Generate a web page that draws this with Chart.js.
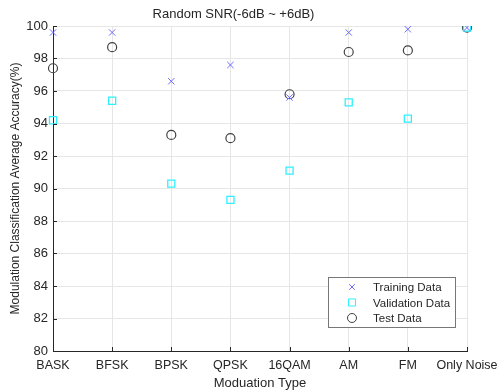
<!DOCTYPE html>
<html>
<head>
<meta charset="utf-8">
<script src="https://cdn.jsdelivr.net/npm/chart.js@4/dist/chart.umd.min.js"></script>
<style>
html,body{margin:0;padding:0;background:#fff;}
#wrap{width:497px;height:392px;}
</style>
</head>
<body>
<div id="wrap"><canvas id="c" width="497" height="392"></canvas></div>
<script>
const categories = ['BASK','BFSK','BPSK','QPSK','16QAM','AM','FM','Only Noise'];
const trainingData = [99.6, 99.6, 96.6, 97.6, 95.6, 99.6, 99.8, 99.9];
const validationData = [94.2, 95.4, 90.3, 89.3, 91.1, 95.3, 94.3, 99.9];
const testData = [97.4, 98.7, 93.3, 93.1, 95.8, 98.4, 98.5, 99.9];
const yTicks = [80, 82, 84, 86, 88, 90, 92, 94, 96, 98, 100];

const FONT = '"Liberation Sans", Arial, sans-serif';
const TXT = '#262626';

const innerTicks = {
  id: 'innerTicks',
  afterDraw(chart) {
    const ctx = chart.ctx, a = chart.chartArea;
    const xs = chart.scales.x, ys = chart.scales.y;
    ctx.save();
    ctx.strokeStyle = TXT; ctx.lineWidth = 1;
    ctx.beginPath();
    xs.ticks.forEach((t, i) => {
      const px = Math.round(xs.getPixelForTick(i)) + 0.5;
      ctx.moveTo(px, a.bottom); ctx.lineTo(px, a.bottom - 4);
    });
    ys.ticks.forEach((t, i) => {
      const py = Math.round(ys.getPixelForTick(i)) + 0.5;
      ctx.moveTo(a.left, py); ctx.lineTo(a.left + 4, py);
    });
    ctx.stroke();
    ctx.restore();
  }
};

const boxLegend = {
  id: 'boxLegend',
  afterDraw(chart) {
    const ctx = chart.ctx, a = chart.chartArea;
    const w = 127, h = 50;
    const x0 = a.right - 12 - w, y0 = a.bottom - 24 - h;
    ctx.save();
    ctx.fillStyle = '#fff';
    ctx.fillRect(x0, y0, w, h);
    ctx.strokeStyle = '#777'; ctx.lineWidth = 1;
    ctx.strokeRect(Math.round(x0) + 0.5, Math.round(y0) + 0.5, w, h);
    ctx.font = '11.5px ' + FONT;
    ctx.textBaseline = 'middle';
    chart.data.datasets.forEach((ds, i) => {
      const cy = y0 + 10 + i * 15.5;
      const mx = x0 + 24;
      ctx.strokeStyle = ds.borderColor;
      ctx.fillStyle = 'rgba(0,0,0,0)';
      ctx.lineWidth = 1;
      Chart.helpers.drawPoint(ctx, {pointStyle: ds.pointStyle, radius: ds.legendRadius, borderWidth: 1}, mx, cy);
      ctx.fillStyle = TXT;
      ctx.fillText(ds.label, x0 + 45, cy + 1);
    });
    ctx.restore();
  }
};

new Chart(document.getElementById('c'), {
  type: 'line',
  data: {
    labels: categories,
    datasets: [
      {label: 'Training Data', data: trainingData, showLine: false, pointStyle: 'crossRot',
       pointRadius: 4.5, legendRadius: 4, borderColor: '#6b6bff', backgroundColor: '#6b6bff', pointBorderWidth: 1},
      {label: 'Validation Data', data: validationData, showLine: false, pointStyle: 'rect',
       pointRadius: 5, legendRadius: 5, borderColor: '#2ff0ff', backgroundColor: 'rgba(0,0,0,0)', pointBorderWidth: 1.3},
      {label: 'Test Data', data: testData, showLine: false, pointStyle: 'circle',
       pointRadius: 4.5, legendRadius: 4.5, borderColor: '#404040', backgroundColor: 'rgba(0,0,0,0)', pointBorderWidth: 1.2}
    ]
  },
  options: {
    responsive: false,
    animation: false,
    devicePixelRatio: 1,
    layout: {padding: {left: 0, right: 30, top: 0, bottom: 0}},
    plugins: {
      legend: {display: false},
      tooltip: {enabled: false},
      title: {display: true, text: 'Random SNR(-6dB ~ +6dB)', color: TXT,
              font: {family: FONT, size: 13, weight: 'normal'}, padding: {top: 7, bottom: 3.4}}
    },
    scales: {
      x: {
        type: 'category',
        offset: false,
        grid: {color: '#e6e6e6', drawTicks: false, offset: false},
        border: {color: TXT, width: 1},
        ticks: {color: TXT, font: {family: FONT, size: 12.5}, padding: 7, maxRotation: 0, autoSkip: false},
        title: {display: true, text: 'Moduation Type', color: TXT, font: {family: FONT, size: 13}, padding: {top: 0, bottom: 1}},
        afterFit(s) { s.paddingLeft = 0; s.paddingRight = 0; s.height = 41; }
      },
      y: {
        min: 80, max: 100,
        afterBuildTicks(s) { s.ticks = yTicks.map(v => ({value: v})); },
        grid: {color: '#e6e6e6', drawTicks: false},
        border: {color: TXT, width: 1},
        ticks: {color: TXT, font: {family: FONT, size: 13}, padding: 5},
        title: {display: true, text: 'Modulation Classification Average Accuracy(%)', color: TXT,
                font: {family: FONT, size: 12}, padding: {top: 8, bottom: 0}},
        afterFit(s) { s.width = 53; s.paddingTop = 0; s.paddingBottom = 0; }
      }
    }
  },
  plugins: [innerTicks, boxLegend]
});
</script>
</body>
</html>
